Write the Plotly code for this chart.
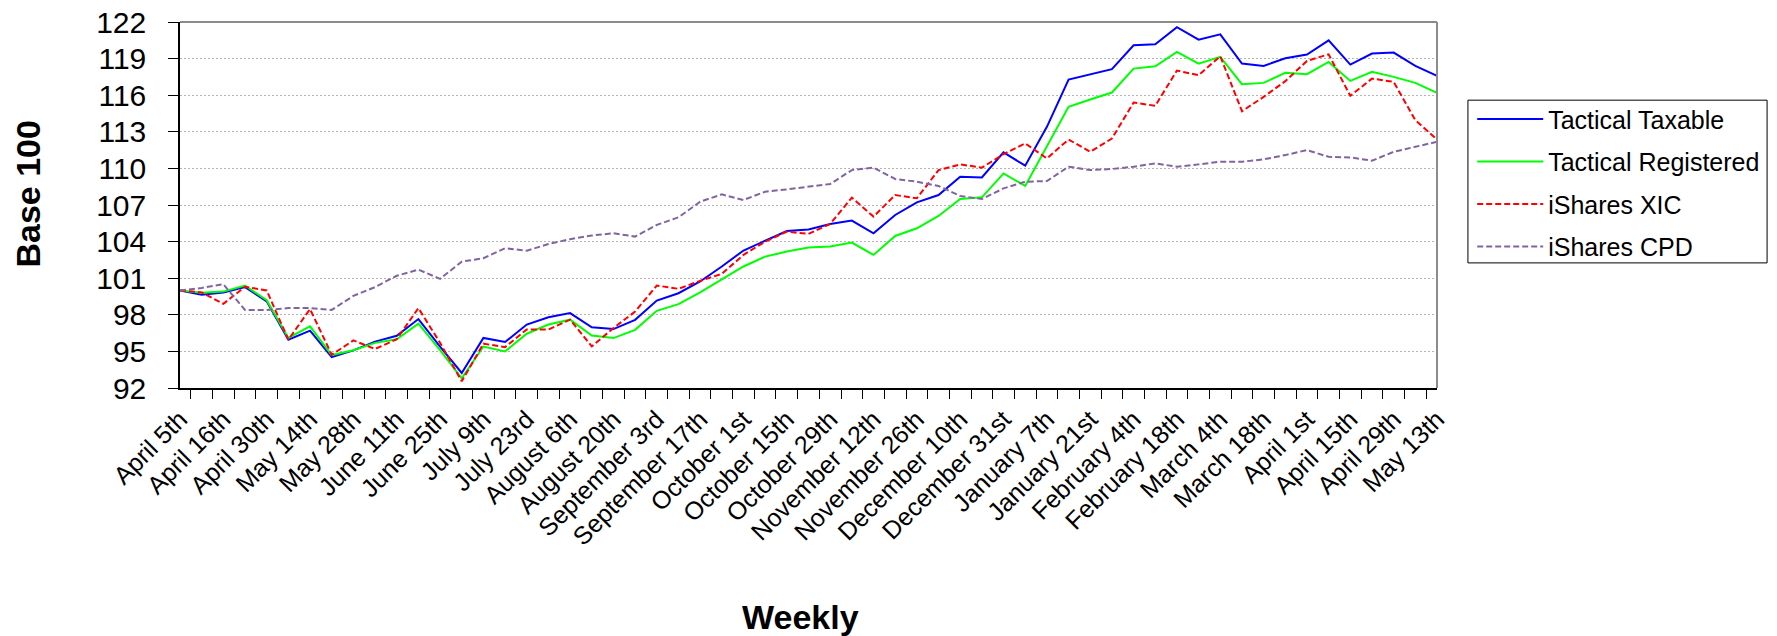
import plotly.graph_objects as go

weeks = [
    "April 5th", "April 9th", "April 16th", "April 23rd", "April 30th", "May 7th",
    "May 14th", "May 21st", "May 28th", "June 4th", "June 11th", "June 18th",
    "June 25th", "July 2nd", "July 9th", "July 16th", "July 23rd", "July 30th",
    "August 6th", "August 13th", "August 20th", "August 27th", "September 3rd",
    "September 10th", "September 17th", "September 24th", "October 1st", "October 8th",
    "October 15th", "October 22nd", "October 29th", "November 5th", "November 12th",
    "November 19th", "November 26th", "December 3rd", "December 10th", "December 17th",
    "December 31st", "January 3rd", "January 7th", "January 14th", "January 21st",
    "January 28th", "February 4th", "February 11th", "February 18th", "February 25th",
    "March 4th", "March 11th", "March 18th", "March 25th", "April 1st", "April 8th",
    "April 15th", "April 22nd", "April 29th", "May 6th", "May 13th",
]

tick_labels = [
    "April 5th", "April 16th", "April 30th", "May 14th", "May 28th", "June 11th",
    "June 25th", "July 9th", "July 23rd", "August 6th", "August 20th", "September 3rd",
    "September 17th", "October 1st", "October 15th", "October 29th", "November 12th",
    "November 26th", "December 10th", "December 31st", "January 7th", "January 21st",
    "February 4th", "February 18th", "March 4th", "March 18th", "April 1st",
    "April 15th", "April 29th", "May 13th",
]

tactical_taxable = [
    100.0, 99.64, 99.83, 100.27, 99.1, 95.96, 96.7, 94.54, 95.08, 95.8,
    96.28, 97.65, 95.4, 93.23, 96.1, 95.77, 97.2, 97.8, 98.14, 96.97,
    96.83, 97.59, 99.17, 99.77, 100.73, 101.96, 103.27, 104.08, 104.87, 105.0,
    105.45, 105.72, 104.68, 106.18, 107.22, 107.82, 109.32, 109.26, 111.31, 110.22,
    113.41, 117.28, 117.72, 118.13, 120.09, 120.17, 121.57, 120.55, 120.99, 118.59,
    118.4, 119.03, 119.33, 120.5, 118.51, 119.41, 119.49, 118.4, 117.58,
]

tactical_registered = [
    100.0, 99.8, 99.9, 100.4, 99.2, 96.1, 97.05, 94.7, 95.1, 95.7,
    96.0, 97.27, 95.1, 92.8, 95.4, 95.0, 96.45, 97.2, 97.6, 96.3,
    96.09, 96.77, 98.33, 98.87, 99.83, 100.87, 101.96, 102.77, 103.18, 103.51,
    103.59, 103.92, 102.91, 104.46, 105.09, 106.1, 107.49, 107.63, 109.59, 108.56,
    111.77, 115.05, 115.65, 116.22, 118.18, 118.37, 119.55, 118.59, 119.14, 116.9,
    117.01, 117.83, 117.72, 118.73, 117.17, 117.91, 117.5, 117.01, 116.19,
]

ishares_xic = [
    100.0, 99.83, 98.9, 100.3, 100.0, 95.96, 98.47, 94.73, 95.9, 95.2,
    96.0, 98.55, 95.7, 92.55, 95.63, 95.35, 96.8, 96.8, 97.6, 95.41,
    96.91, 98.27, 100.4, 100.13, 100.78, 101.36, 102.91, 104.0, 104.82, 104.63,
    105.45, 107.6, 106.05, 107.82, 107.55, 109.86, 110.33, 110.06, 111.17, 112.05,
    110.82, 112.37, 111.36, 112.45, 115.4, 115.13, 118.02, 117.64, 119.19, 114.69,
    115.86, 117.15, 118.81, 119.35, 115.95, 117.36, 117.09, 113.95, 112.37,
]

ishares_cpd = [
    100.0, 100.2, 100.5, 98.4, 98.4, 98.55, 98.55, 98.4, 99.55, 100.27,
    101.2, 101.7, 100.95, 102.36, 102.64, 103.45, 103.26, 103.8, 104.2, 104.5,
    104.68, 104.41, 105.37, 105.99, 107.27, 107.87, 107.41, 108.09, 108.28, 108.5,
    108.72, 109.86, 110.06, 109.13, 108.91, 108.56, 107.74, 107.49, 108.36, 108.91,
    108.96, 110.14, 109.86, 109.95, 110.14, 110.41, 110.14, 110.33, 110.55, 110.55,
    110.74, 111.09, 111.5, 110.95, 110.9, 110.63, 111.36, 111.77, 112.18,
]

FONT = "Liberation Sans, Arial, sans-serif"

series = [
    ("Tactical Taxable", tactical_taxable, "#0000FF", "solid"),
    ("Tactical Registered", tactical_registered, "#00FF00", "solid"),
    ("iShares XIC", ishares_xic, "#FF0000", "6px,3px"),
    ("iShares CPD", ishares_cpd, "#8064A2", "6px,3px"),
]

fig = go.Figure()
for name, vals, color, dash in series:
    fig.add_trace(go.Scatter(
        x=weeks, y=vals, name=name, mode="lines", legendgroup=name,
        line=dict(color=color, width=2, dash=dash),
    ))

ticktext = [w if w in tick_labels else "" for w in weeks]

fig.update_layout(
    width=1777, height=636,
    margin=dict(l=180, r=337, t=22, b=248),
    paper_bgcolor="white", plot_bgcolor="white",
    font=dict(family=FONT, color="black"),
    showlegend=True,
    legend=dict(
        x=1.028, y=0.797, xanchor="left", yanchor="top",
        borderwidth=0, bgcolor="rgba(0,0,0,0)",
        font=dict(family=FONT, size=25, color="black"),
        traceorder="grouped", tracegroupgap=7, itemwidth=66,
    ),
)

fig.update_xaxes(
    type="category", categoryorder="array", categoryarray=weeks,
    tickmode="array", tickvals=weeks, ticktext=ticktext,
    tickson="boundaries", ticks="outside", ticklen=9, tickcolor="black", tickwidth=1,
    tickangle=-45, tickfont=dict(family=FONT, size=25, color="black"),
    ticklabelstandoff=5,
    showline=True, linecolor="black", linewidth=1.5,
    showgrid=False, zeroline=False, automargin=False,
)

fig.update_yaxes(
    range=[92, 122], tick0=92, dtick=3,
    ticks="outside", ticklen=10, tickcolor="black", tickwidth=1,
    tickfont=dict(family=FONT, size=30, color="black"), ticklabelstandoff=16,
    showline=True, linecolor="black", linewidth=1.5,
    showgrid=True, gridcolor="#B4B4B4", gridwidth=1, griddash="2px,2px",
    zeroline=False, automargin=False,
)

# Gray frame on the top and right of the plot area
fig.add_shape(type="line", xref="paper", yref="paper", x0=0, x1=1, y0=1, y1=1,
              line=dict(color="#8C8C8C", width=2))
fig.add_shape(type="line", xref="paper", yref="paper", x0=1, x1=1, y0=0, y1=1,
              line=dict(color="#8C8C8C", width=2))
# Legend frame
fig.add_shape(type="rect", xref="paper", yref="paper",
              x0=1.0246, x1=1.2626, y0=0.3418, y1=0.7864,
              line=dict(color="black", width=1), fillcolor="rgba(0,0,0,0)")

fig.add_annotation(text="<b>Base 100</b>", xref="paper", yref="paper",
                   x=-0.1213, y=0.53, xanchor="center", yanchor="middle",
                   textangle=-90, showarrow=False,
                   font=dict(family=FONT, size=34, color="black"))
fig.add_annotation(text="<b>Weekly</b>", xref="paper", yref="paper",
                   x=0.494, y=-0.626, xanchor="center", yanchor="middle",
                   showarrow=False,
                   font=dict(family=FONT, size=34, color="black"))

fig.write_html("out.html", config={"displayModeBar": False},
               post_script="document.body.style.margin='0';")
